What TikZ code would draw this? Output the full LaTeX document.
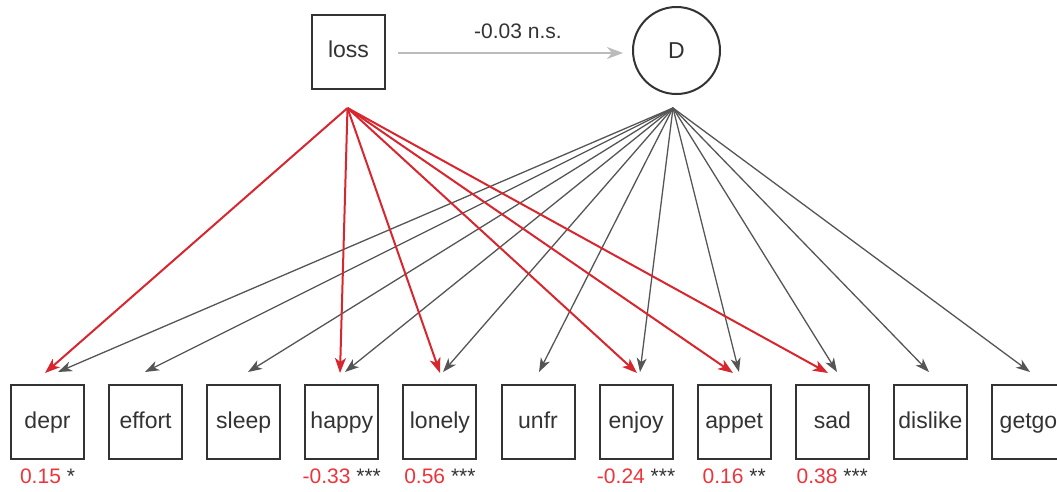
\documentclass[tikz,border=0pt]{standalone}
\usepackage{fontspec}
\setmainfont{Liberation Sans}
\usetikzlibrary{arrows.meta}
\definecolor{edgered}{RGB}{216,38,46}
\definecolor{labred}{RGB}{236,52,60}
\definecolor{edgegray}{RGB}{85,85,85}
\definecolor{boxgray}{RGB}{51,51,51}
\definecolor{lightedge}{RGB}{187,187,187}
\tikzset{
  x=1pt, y=-1pt,
  varbox/.style={draw=boxgray, line width=2pt, minimum width=73pt, minimum height=74pt, inner sep=0pt, text=boxgray, text height=17pt, text depth=5pt, font=\fontsize{23}{26}\selectfont},
  latent/.style={draw=boxgray, line width=2pt, circle, minimum size=87pt, inner sep=0pt, text=boxgray, font=\fontsize{23}{26}\selectfont},
  redarrow/.style={draw=edgered, line width=2pt, -{Stealth[length=15pt, width=11pt, inset=4pt]}},
  grayarrow/.style={draw=edgegray, line width=1.3pt, -{Stealth[length=14pt, width=10pt, inset=4pt]}},
  lightarrow/.style={draw=lightedge, line width=2pt, -{Stealth[length=16pt, width=12pt, inset=5pt]}},
  estlab/.style={font=\fontsize{21}{24}\selectfont, text=boxgray, inner sep=0pt, text height=15pt, text depth=4pt},
}
\begin{document}
\begin{tikzpicture}
\useasboundingbox (0,0) rectangle (1057,491);
% top
\node[varbox] (loss) at (348.5,51.5) {loss};
\node[latent] (D) at (676.5,50.5) {D};
\coordinate (lossout) at (347.5,108);
\coordinate (Dout) at (673,108);
\coordinate (lstart) at (398,53);
\coordinate (lend) at (623,53);
\draw[lightarrow] (lstart) -- (lend);
\node[estlab] (lab0) at (518,33) {-0.03 n.s.};
% bottom boxes
\foreach \n [count=\i from 0] in {depr,effort,sleep,happy,lonely,unfr,enjoy,appet,sad,dislike,getgo}{
  \node[varbox] (\n) at (47.5+98.1*\i,422) {\n};
}
% tips for D
\foreach \n/\x in {depr/58,effort/145,sleep/248,happy/345,lonely/443,unfr/539,enjoy/640,appet/739,sad/837,dislike/929,getgo/1030}{
  \coordinate (tD-\n) at (\x,372);
  \draw[grayarrow] (Dout) -- (tD-\n);
}
% tips for loss
\foreach \n/\x in {depr/45,happy/340,lonely/440,enjoy/637,appet/733,sad/828}{
  \coordinate (tL-\n) at (\x,373);
  \draw[redarrow] (lossout) -- (tL-\n);
}
% labels
\node[estlab] (l-depr) at ([yshift=-18pt]depr.south) {\textcolor{labred}{0.15} *};
\node[estlab] (l-happy) at ([yshift=-18pt]happy.south) {\textcolor{labred}{-0.33} ***};
\node[estlab] (l-lonely) at ([yshift=-18pt]lonely.south) {\textcolor{labred}{0.56} ***};
\node[estlab] (l-enjoy) at ([yshift=-18pt]enjoy.south) {\textcolor{labred}{-0.24} ***};
\node[estlab] (l-appet) at ([yshift=-18pt]appet.south) {\textcolor{labred}{0.16} **};
\node[estlab] (l-sad) at ([yshift=-18pt]sad.south) {\textcolor{labred}{0.38} ***};
\end{tikzpicture}
\end{document}
